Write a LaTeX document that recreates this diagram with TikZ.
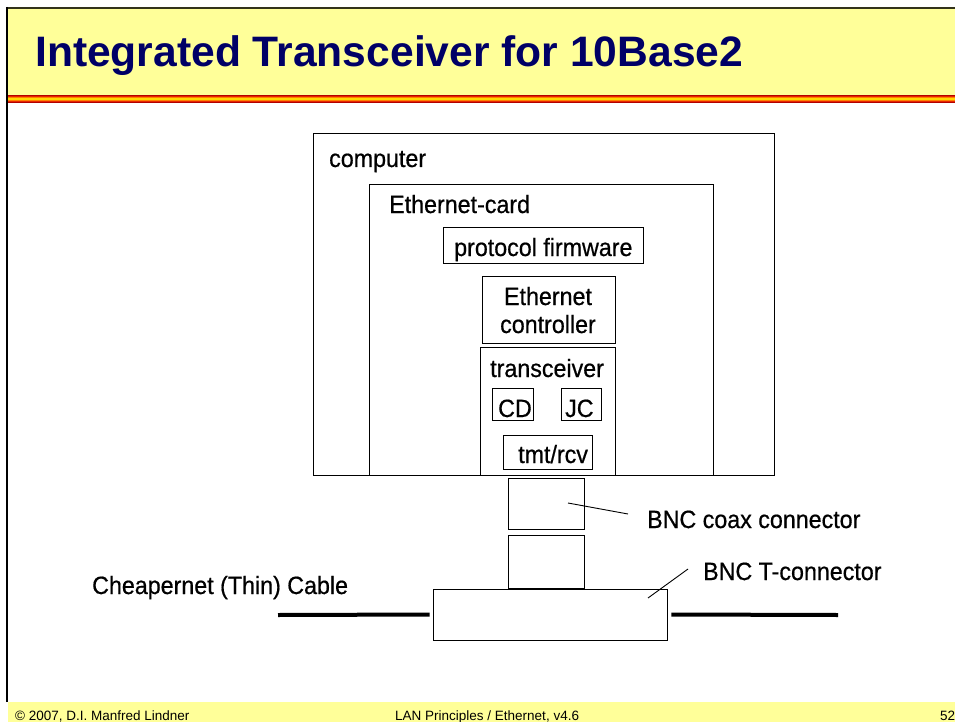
\documentclass[tikz,border=0pt]{standalone}
\usepackage{fontspec}
\setmainfont{Liberation Sans}
\newfontfamily\narrowfont{Liberation Sans}[FakeStretch=0.93, FakeBold=0.6]
\usetikzlibrary{positioning}
\definecolor{slideyellow}{HTML}{FFFF99}
\definecolor{titleblue}{HTML}{000066}
\definecolor{frameline}{HTML}{33331A}
\definecolor{stripedark}{HTML}{B30000}
\definecolor{stripered}{HTML}{E62600}
\definecolor{stripeorange}{HTML}{FF8000}
\definecolor{stripeyellow}{HTML}{FFD700}

\begin{document}
\begin{tikzpicture}[x=1pt,y=-1pt]
        \useasboundingbox (0,0) rectangle (955,722);

        % slide frame
        \fill[slideyellow] (8,9) rectangle (955,95);
        \fill[stripedark] (8,95) rectangle (955,96);
        \fill[stripered] (8,96) rectangle (955,97);
        \fill[stripeorange] (8,97) rectangle (955,98);
        \fill[stripeyellow] (8,98) rectangle (955,100);
        \fill[stripeorange] (8,100) rectangle (955,101);
        \fill[stripered] (8,101) rectangle (955,102);
        \fill[stripedark] (8,102) rectangle (955,103);
        \fill[slideyellow] (8,702) rectangle (955,722);
        \draw[frameline, line width=2pt] (6,8) -- (955,8);
        \draw[black, line width=2.5pt] (7,7) -- (7,702);

        \node [anchor=base west, inner sep=0, text=titleblue, font=\bfseries\fontsize{42.6}{48}\selectfont] (title) at (35,67) {Integrated Transceiver for 10Base2};

        \begin{scope}[every node/.style={anchor=base west, inner sep=0, font=\fontsize{13.5}{15}\selectfont}]
                \node (copy) at (15,720.5) {© 2007, D.I. Manfred Lindner};
                \node (course) at (395,720.5) {LAN Principles / Ethernet, v4.6};
                \node (page) at (940,720.5) {52};
        \end{scope}

        \begin{scope}[every node/.style={draw, line width=0.9pt, inner sep=0}]
                \node [minimum width=461pt, minimum height=342pt] (computer) at (543.5,304) {};
                \node [minimum width=344pt, minimum height=291pt] (card) at (541,329.5) {};
                \node [minimum width=200pt, minimum height=36pt] (firmware) at (543,245) {};
                \node [minimum width=133pt, minimum height=67pt] (controller) at (548.5,309.5) {};
                \node [minimum width=135pt, minimum height=128pt] (transceiver) at (547.5,411) {};
                \node [minimum width=41pt, minimum height=32pt] (cd) at (512.5,404) {};
                \node [minimum width=40pt, minimum height=32pt] (jc) at (581,404) {};
                \node [minimum width=89pt, minimum height=34pt] (tmtrcv) at (547.5,452) {};
                \node [minimum width=76pt, minimum height=51pt] (coax) at (546,503.5) {};
                \node [minimum width=76pt, minimum height=53pt] (plug) at (546,561.5) {};
                \node [minimum width=234pt, minimum height=51pt] (tconn) at (550,614.5) {};
        \end{scope}

        \begin{scope}[every node/.style={anchor=base west, inner sep=0, font=\narrowfont\fontsize{25}{28}\selectfont}]
                \node (computerlbl) at (329,167) {computer};
                \node (cardlbl) at (389,213) {Ethernet-card};
                \node (firmwarelbl) at (454,256) {protocol firmware};
                \node [anchor=base, align=center] (controllerlbl) at (548,333) {Ethernet\\controller};
                \node (transceiverlbl) at (490,377) {transceiver};
                \node (cdlbl) at (498,417) {CD};
                \node (jclbl) at (565,417) {JC};
                \node (tmtrcvlbl) at (518,463) {tmt/rcv};
                \node (coaxlbl) at (647,528) {BNC coax connector};
                \node (tconnlbl) at (703,580) {BNC T-connector};
                \node (cablelbl) at (92,594) {Cheapernet (Thin) Cable};
        \end{scope}

        \coordinate (coaxtip) at (568,503);
        \coordinate (coaxend) at (628,514);
        \coordinate (tconntip) at (648,598);
        \coordinate (tconnend) at (688,569);
        \coordinate (cableL) at (278,615);
        \coordinate (cableR) at (838,615);

        \begin{scope}[every path/.style={black, line width=0.9pt}]
                \path (coaxtip) edge (coaxend);
                \path (tconntip) edge (tconnend);
                \path (cableL) edge [line width=4pt, shorten >=3pt] (tconn.west);
                \path (tconn.east) edge [line width=4pt, shorten <=4pt] (cableR);
        \end{scope}
\end{tikzpicture}
\end{document}
